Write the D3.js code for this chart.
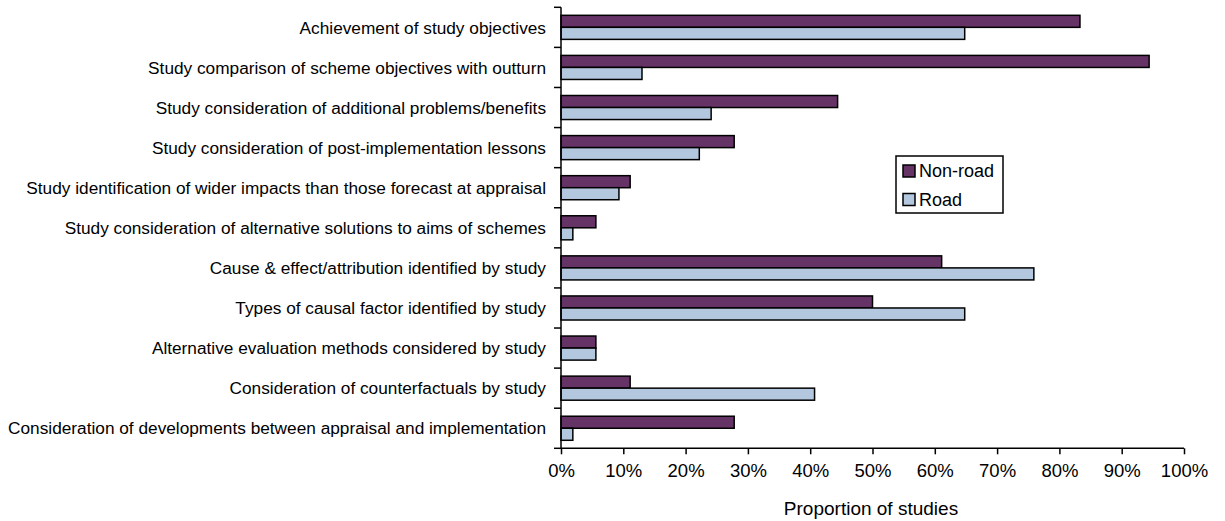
<!DOCTYPE html>
<html>
<head>
<meta charset="utf-8">
<script src="https://cdn.jsdelivr.net/npm/d3@7"></script>
<style>
  html, body { margin: 0; padding: 0; background: #fff; }
  svg { display: block; font-family: "Liberation Sans", Arial, sans-serif; }
</style>
</head>
<body>
<svg id="chart" width="1225" height="521"></svg>
<script>
// Evaluation criteria, listed top to bottom
const categories = [
  "Achievement of study objectives",
  "Study comparison of scheme objectives with outturn",
  "Study consideration of additional problems/benefits",
  "Study consideration of post-implementation lessons",
  "Study identification of wider impacts than those forecast at appraisal",
  "Study consideration of alternative solutions to aims of schemes",
  "Cause & effect/attribution identified by study",
  "Types of causal factor identified by study",
  "Alternative evaluation methods considered by study",
  "Consideration of counterfactuals by study",
  "Consideration of developments between appraisal and implementation"
];

const seriesNames = ["Non-road", "Road"];

// Share of studies (fraction, 0..1)
const nonRoadValues = [0.833, 0.944, 0.444, 0.278, 0.111, 0.056, 0.611, 0.500, 0.056, 0.111, 0.278];
const roadValues    = [0.648, 0.130, 0.241, 0.222, 0.093, 0.019, 0.759, 0.648, 0.056, 0.407, 0.019];

const xTicks = [0, 0.1, 0.2, 0.3, 0.4, 0.5, 0.6, 0.7, 0.8, 0.9, 1.0];

const colors = { "Non-road": "#663366", "Road": "#b3c7de" };

const svg = d3.select("#chart");

const plot = { left: 561, right: 1184, top: 7.3, bottom: 448.3 };

const x = d3.scaleLinear().domain([0, 1]).range([plot.left, plot.right]);
const y = d3.scaleBand().domain(categories).range([plot.top, plot.bottom]).padding(0);
const bw = y.bandwidth();
const ySub = d3.scaleBand().domain(seriesNames).range([bw * 0.2, bw * 0.8]).padding(0);

const rows = categories.map((c, i) => ({
  cat: c,
  vals: [
    { s: "Non-road", v: nonRoadValues[i] },
    { s: "Road", v: roadValues[i] }
  ]
}));

// Bars
const g = svg.append("g");
const groups = g.selectAll("g.row").data(rows).join("g")
  .attr("class", "row")
  .attr("transform", d => `translate(0,${y(d.cat)})`);

groups.selectAll("rect").data(d => d.vals).join("rect")
  .attr("x", x(0))
  .attr("y", d => ySub(d.s))
  .attr("width", d => x(d.v) - x(0))
  .attr("height", ySub.bandwidth())
  .attr("fill", d => colors[d.s])
  .attr("stroke", "#000")
  .attr("stroke-width", 1.5);

// Category axis (left)
const yAxis = svg.append("g")
  .attr("transform", `translate(${plot.left},0)`);
yAxis.append("line")
  .attr("x1", 0).attr("x2", 0)
  .attr("y1", plot.top).attr("y2", plot.bottom)
  .attr("stroke", "#000").attr("stroke-width", 1.5);
const bounds = categories.map(c => y(c)).concat([plot.bottom]);
yAxis.selectAll("line.tick").data(bounds).join("line")
  .attr("class", "tick")
  .attr("x1", -7).attr("x2", 0)
  .attr("y1", d => d).attr("y2", d => d)
  .attr("stroke", "#000").attr("stroke-width", 1.5);
yAxis.selectAll("text").data(categories).join("text")
  .attr("x", -15)
  .attr("y", d => y(d) + bw / 2)
  .attr("dy", "0.36em")
  .attr("text-anchor", "end")
  .attr("font-size", "17.25px")
  .attr("fill", "#000")
  .text(d => d);

// Value axis (bottom)
const xAxisG = svg.append("g")
  .attr("transform", `translate(0,${plot.bottom})`)
  .call(d3.axisBottom(x).tickValues(xTicks).tickFormat(d3.format(".0%")).tickSize(6).tickPadding(10));
xAxisG.select(".domain").attr("stroke", "#000").attr("stroke-width", 1.5).attr("d", `M${plot.left},0H${plot.right}`);
xAxisG.selectAll(".tick line").attr("stroke", "#000").attr("stroke-width", 1.5);
xAxisG.selectAll(".tick text")
  .attr("font-size", "18.5px")
  .attr("font-family", "Liberation Sans, Arial, sans-serif")
  .attr("fill", "#000");

svg.append("text")
  .attr("x", 871)
  .attr("y", 515)
  .attr("text-anchor", "middle")
  .attr("font-size", "19px")
  .attr("fill", "#000")
  .text("Proportion of studies");

// Legend
const legend = svg.append("g").attr("transform", "translate(896,156)");
legend.append("rect")
  .attr("width", 107).attr("height", 57)
  .attr("fill", "#fff").attr("stroke", "#000").attr("stroke-width", 1.5);
const items = legend.selectAll("g.item").data(seriesNames).join("g")
  .attr("class", "item")
  .attr("transform", (d, i) => `translate(7,${9 + i * 28.5})`);
items.append("rect")
  .attr("width", 12).attr("height", 12)
  .attr("fill", d => colors[d])
  .attr("stroke", "#000").attr("stroke-width", 1.5);
items.append("text")
  .attr("x", 16).attr("y", 12)
  .attr("font-size", "18px")
  .attr("fill", "#000")
  .text(d => d);
</script>
</body>
</html>
